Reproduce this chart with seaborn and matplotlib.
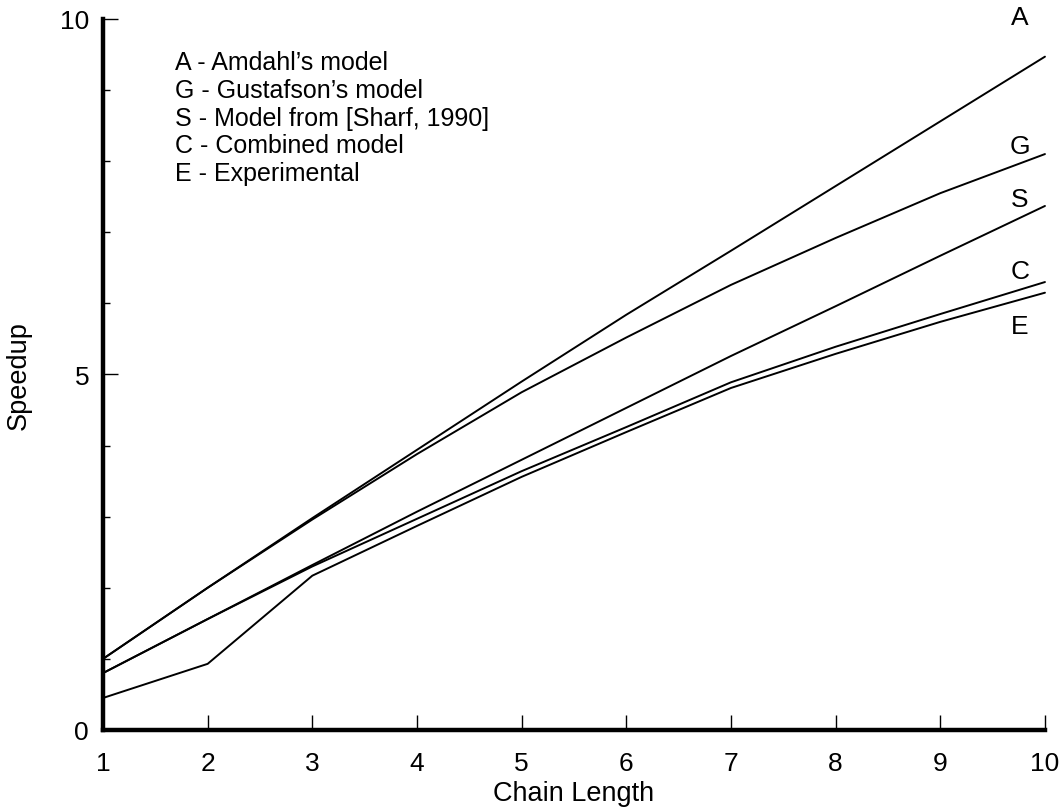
import matplotlib
matplotlib.use("Agg")
import matplotlib.pyplot as plt
from matplotlib.ticker import MultipleLocator
import numpy as np
import pandas as pd
import seaborn as sns

# Speedup versus chain length for four models and the measured values
chain_length = [1, 2, 3, 4, 5, 6, 7, 8, 9, 10]
amdahl = [1.00, 2.00, 2.98, 3.94, 4.90, 5.84, 6.74, 7.65, 8.56, 9.47]
gustafson = [1.00, 2.00, 2.96, 3.88, 4.75, 5.52, 6.26, 6.92, 7.55, 8.10]
sharf = [0.80, 1.56, 2.32, 3.07, 3.80, 4.53, 5.26, 5.96, 6.67, 7.37]
combined = [0.80, 1.56, 2.30, 2.97, 3.64, 4.26, 4.89, 5.39, 5.85, 6.30]
experimental = [0.45, 0.93, 2.17, 2.87, 3.56, 4.19, 4.81, 5.29, 5.74, 6.15]

series_keys = ["A", "G", "S", "C", "E"]
series_values = [amdahl, gustafson, sharf, combined, experimental]
key_text = [
    "A - Amdahl\u2019s model",
    "G - Gustafson\u2019s model",
    "S - Model from [Sharf, 1990]",
    "C - Combined model",
    "E - Experimental",
]

df = pd.DataFrame({
    "Chain Length": np.tile(chain_length, len(series_keys)),
    "Speedup": np.concatenate(series_values),
    "model": np.repeat(series_keys, len(chain_length)),
})

sns.set_theme(style="ticks")
plt.rcParams["font.family"] = ["Liberation Sans", "DejaVu Sans"]

fig = plt.figure(figsize=(10.64, 8.12), dpi=100)
ax = fig.add_axes([0.0968, 0.0998, 0.8853, 0.8756])

sns.lineplot(data=df, x="Chain Length", y="Speedup", hue="model",
             palette=["black"] * len(series_keys), legend=False,
             linewidth=1.4, ax=ax, clip_on=False)

ax.set_xlim(1, 10)
ax.set_ylim(0, 10)

# Axis frame: heavy left/bottom spines only
for side in ("top", "right"):
    ax.spines[side].set_visible(False)
for side in ("left", "bottom"):
    ax.spines[side].set_linewidth(3.2)
    ax.spines[side].set_color("black")

ax.set_xticks(chain_length)
ax.set_xticklabels([str(v) for v in chain_length])
ax.set_yticks([0, 5, 10])
ax.set_yticklabels(["0", "5", "10"])
ax.yaxis.set_minor_locator(MultipleLocator(1))

ax.tick_params(axis="x", which="major", direction="in", length=11, width=1.0,
               pad=15, labelsize=19, color="black", labelcolor="black")
ax.tick_params(axis="y", which="major", direction="in", length=10.5, width=1.0,
               pad=10, labelsize=19, color="black", labelcolor="black")
ax.tick_params(axis="y", which="minor", direction="in", length=5, width=1.0,
               color="black")

ax.set_xlabel("Chain Length", fontsize=19.5, labelpad=4, color="black")
ax.set_ylabel("Speedup", fontsize=19.5, labelpad=20, color="black")

# Curve tags at the right end
tag_y = [10.03, 8.21, 7.47, 6.46, 5.68]
for key, y in zip(series_keys, tag_y):
    ax.text(9.76, y, key, fontsize=19, ha="center", va="center", color="black")

# Key text block
for i, line in enumerate(key_text):
    ax.text(1.69, 9.39 - i * 0.388, line, fontsize=18, ha="left",
            va="center", color="black")

fig.savefig("out.png", dpi=100, facecolor="white")
